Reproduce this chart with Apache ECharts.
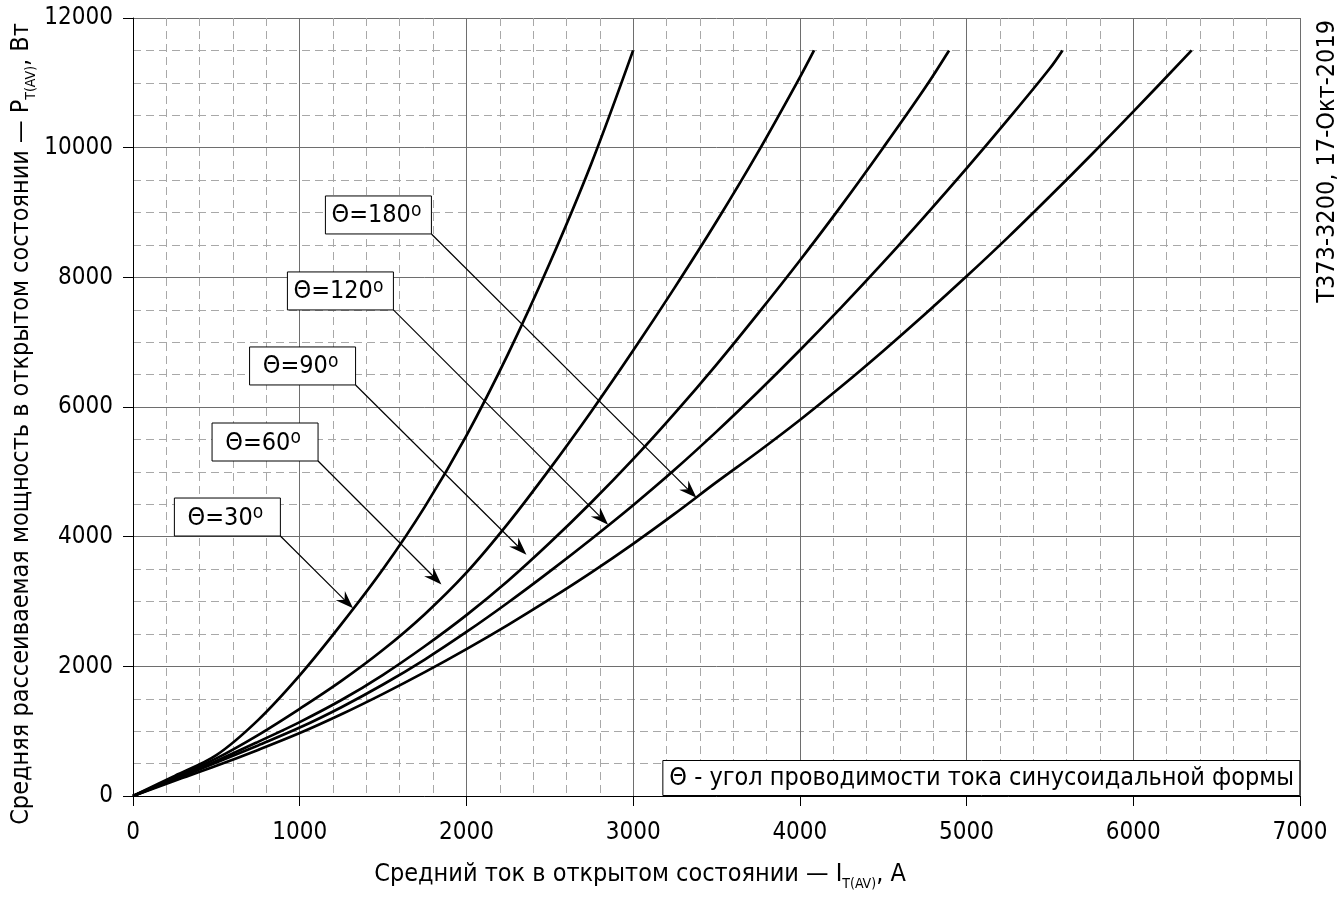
<!DOCTYPE html>
<html>
<head>
<meta charset="utf-8">
<script src="https://cdn.jsdelivr.net/npm/echarts@6/dist/echarts.min.js"></script>
<style>
html,body{margin:0;padding:0;background:#fff;}
#c{width:1344px;height:901px;}
</style>
</head>
<body>
<div id="c"></div>
<script>
// ---------- data ----------
const i30  = [0,250,500,750,1000,1250,1500,1750,2000,2250,2500,2750,3000];
const p30  = [0,310,630,1170,1860,2650,3500,4460,5560,6820,8220,9760,11500];

const i60  = [0,250,500,750,1000,1250,1500,1750,2000,2250,2500,2750,3000,3250,3500,3750,4000,4085];
const p60  = [0,285,580,940,1345,1775,2255,2805,3445,4205,5045,5935,6870,7845,8860,9935,11085,11500];

const i90  = [0,250,500,750,1000,1250,1500,1750,2000,2250,2500,2750,3000,3250,3500,3750,4000,4250,4500,4750,4895];
const p90  = [0,265,540,835,1140,1480,1870,2310,2790,3320,3905,4530,5195,5905,6655,7445,8260,9110,10000,10920,11500];

const i120 = [0,250,500,750,1000,1250,1500,1750,2000,2250,2500,2750,3000,3250,3500,3750,4000,4250,4500,4750,5000,5250,5500,5575];
const p120 = [0,255,515,780,1055,1370,1720,2105,2530,2985,3465,3965,4485,5035,5620,6235,6875,7540,8230,8945,9680,10440,11225,11500];

const i180 = [0,250,500,750,1000,1250,1500,1750,2000,2250,2500,2750,3000,3250,3500,3750,4000,4250,4500,4750,5000,5250,5500,5750,6000,6350];
const p180 = [0,235,465,710,970,1260,1575,1910,2265,2640,3035,3450,3890,4355,4840,5310,5800,6320,6865,7430,8015,8620,9250,9895,10555,11500];

// annotation labels: box bottom-right corner and arrow tip, in data units
const annAngles = ['30','60','90','120','180'];
const annBoxI   = [884, 1110, 1335, 1562, 1790];
const annBoxP   = [4010, 5167, 6340, 7497, 8669];
const annTipI   = [1320, 1850, 2360, 2850, 3380];
const annTipP   = [2895, 3262, 3722, 4185, 4600];

const xTitleMain = 'Средний ток в открытом состоянии — I';
const yTitleMain = 'Средняя рассеиваемая мощность в открытом состоянии — P';
const subText = 'T(AV)';
const xUnit = ', A';
const yUnit = ', Вт';
const noteText = 'Θ - угол проводимости тока синусоидальной формы';
const stampText = 'Т373-3200, 17-Окт-2019';

// ---------- styling ----------
const FONT = '"DejaVu Sans Condensed","Liberation Sans Narrow","DejaVu Sans",sans-serif';
const BOX_W = 106, BOX_H = 38;

function zip(a, b){ return a.map((v, k) => [v, b[k]]); }
const curves = [[i30,p30],[i60,p60],[i90,p90],[i120,p120],[i180,p180]];
const annData = annAngles.map((_, k) => [annBoxI[k], annBoxP[k], annTipI[k], annTipP[k], k]);

const chart = echarts.init(document.getElementById('c'), null, {renderer:'canvas'});

const axisCommon = {
  type: 'value',
  axisLine: {show: true, onZero: false, lineStyle: {color: '#000', width: 1}},
  axisTick: {show: true, length: 10, inside: false, lineStyle: {color: '#000', width: 1}},
  splitLine: {show: true, lineStyle: {color: '#6e6e6e', width: 1}},
  minorSplitLine: {show: true, lineStyle: {color: '#a8a8a8', width: 1, type: [8, 5]}}
};
const labelCommon = {color: '#000', fontSize: 24, fontFamily: FONT, formatter: v => String(v)};

const option = {
  animation: false,
  backgroundColor: '#fff',
  grid: {left: 133, right: 44, top: 18, bottom: 105, containLabel: false},
  xAxis: Object.assign({}, axisCommon, {
    min: 0, max: 7000, interval: 1000,
    minorTick: {show: false, splitNumber: 5},
    axisLabel: Object.assign({}, labelCommon, {margin: 25})
  }),
  yAxis: Object.assign({}, axisCommon, {
    min: 0, max: 12000, interval: 2000,
    minorTick: {show: false, splitNumber: 4},
    axisLabel: Object.assign({}, labelCommon, {margin: 20})
  }),
  title: {
    text: noteText,
    right: 44, bottom: 105,
    backgroundColor: '#fff',
    borderColor: '#000', borderWidth: 1,
    padding: [6, 6, 5, 7],
    textStyle: {fontSize: 25, fontWeight: 'normal', fontFamily: FONT, color: '#000'}
  },
  series: curves.map(c => ({
    type: 'line',
    data: zip(c[0], c[1]),
    showSymbol: false,
    smooth: 0.35,
    lineStyle: {color: '#000', width: 2.7},
    z: 5,
    silent: true
  })).concat([{
    type: 'custom',
    coordinateSystem: 'cartesian2d',
    data: annData,
    encode: {x: [0, 2], y: [1, 3]},
    clip: false,
    silent: true,
    z: 10,
    renderItem: function(params, api){
      const b = api.coord([api.value(0), api.value(1)]);
      const t = api.coord([api.value(2), api.value(3)]);
      const idx = api.value(4);
      const dx = t[0]-b[0], dy = t[1]-b[1];
      const L = Math.sqrt(dx*dx+dy*dy);
      const ux = dx/L, uy = dy/L, nx = -uy, ny = ux;
      const AL = 18, AW = 6.5, NOTCH = 12;
      const base = [t[0]-ux*AL, t[1]-uy*AL];
      const notch = [t[0]-ux*NOTCH, t[1]-uy*NOTCH];
      return {
        type: 'group',
        children: [
          {type: 'line', shape: {x1: b[0], y1: b[1], x2: notch[0], y2: notch[1]},
           style: {stroke: '#000', lineWidth: 1.2}},
          {type: 'polygon', shape: {points: [t, [base[0]+nx*AW, base[1]+ny*AW], notch, [base[0]-nx*AW, base[1]-ny*AW]]},
           style: {fill: '#000'}},
          {type: 'rect', shape: {x: b[0]-BOX_W, y: b[1]-BOX_H, width: BOX_W, height: BOX_H},
           style: {fill: '#fff', stroke: '#000', lineWidth: 1}},
          {type: 'text', x: b[0]-BOX_W/2 - 2, y: b[1]-BOX_H/2 + 1,
           style: {text: 'Θ=' + annAngles[idx] + '{sup|o}', fontSize: 25, fontFamily: FONT, fill: '#000',
                   lineHeight: 28,
                   align: 'center', verticalAlign: 'middle', textAlign: 'center', textVerticalAlign: 'middle',
                   rich: {sup: {fontSize: 19, fontFamily: FONT, lineHeight: 19, verticalAlign: 'top'}}}}
        ]
      };
    }
  }]),
  graphic: [
    {type: 'text', x: 640, y: 874, silent: true,
     style: {text: xTitleMain + '{sub|' + subText + '}' + xUnit,
             fontSize: 25, fontFamily: FONT, fill: '#000', lineHeight: 34,
             align: 'center', verticalAlign: 'middle', textAlign: 'center', textVerticalAlign: 'middle',
             rich: {sub: {fontSize: 14, fontFamily: FONT, lineHeight: 14, verticalAlign: 'bottom'}}}},
    {type: 'text', x: 21, y: 424, rotation: Math.PI/2, silent: true,
     style: {text: yTitleMain + '{sub|' + subText + '}' + yUnit,
             fontSize: 25, fontFamily: FONT, fill: '#000', lineHeight: 34,
             align: 'center', verticalAlign: 'middle', textAlign: 'center', textVerticalAlign: 'middle',
             rich: {sub: {fontSize: 14, fontFamily: FONT, lineHeight: 14, verticalAlign: 'bottom'}}}},
    {type: 'text', x: 1327, y: 20, rotation: Math.PI/2, silent: true,
     style: {text: stampText, fontSize: 25, fontFamily: FONT, fill: '#000',
             align: 'right', verticalAlign: 'middle', textAlign: 'right', textVerticalAlign: 'middle'}}
  ]
};
chart.setOption(option);
</script>
</body>
</html>
